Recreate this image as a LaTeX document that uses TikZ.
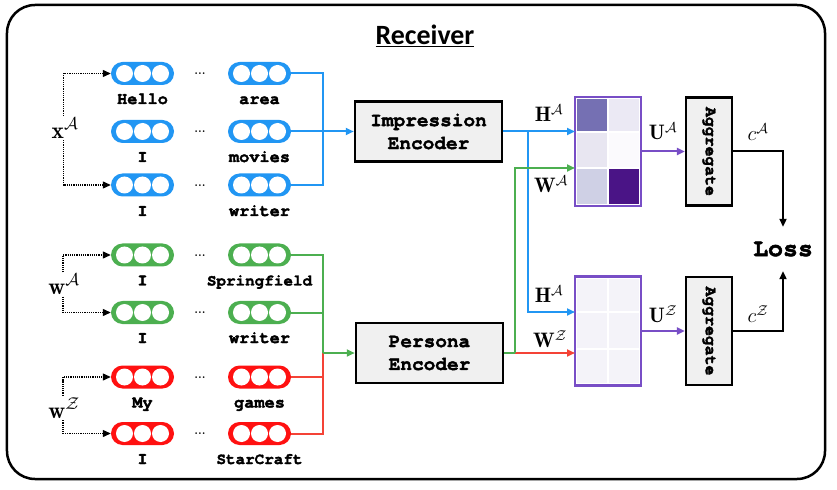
\documentclass[tikz,border=0pt]{standalone}
\usepackage{fontspec}
\setmonofont{TeX Gyre Cursor}[Ligatures={NoCommon},BoldFeatures={FakeBold=2}]
\newfontfamily\titlefont{Carlito}
\usepackage{graphicx}
\usetikzlibrary{arrows.meta}
\definecolor{cblue}{RGB}{33,150,243}
\definecolor{cgreen}{RGB}{76,175,80}
\definecolor{cred}{RGB}{255,17,17}
\definecolor{credline}{RGB}{244,67,54}
\definecolor{cpurple}{RGB}{120,78,198}
\definecolor{boxfill}{RGB}{240,240,240}
\definecolor{mAa}{RGB}{117,112,179}
\definecolor{mAb}{RGB}{235,233,244}
\definecolor{mAc}{RGB}{232,230,241}
\definecolor{mAd}{RGB}{251,250,253}
\definecolor{mAe}{RGB}{207,208,229}
\definecolor{mAf}{RGB}{74,20,134}
\definecolor{mZ}{RGB}{244,243,249}
\begin{document}
\begin{tikzpicture}[x=1bp,y=-1bp,
  pill/.style={rectangle, rounded corners=11.5bp, minimum width=63bp, minimum height=23bp, inner sep=0pt, fill=#1,
    path picture={\foreach \dx in {-18,0,18}{\fill[white] ([xshift=\dx bp]path picture bounding box.center) circle[radius=8.5bp];}}},
  tok/.style={anchor=base, inner sep=0pt, font=\ttfamily\bfseries\fontsize{17}{20}\selectfont},
  toksm/.style={anchor=base, inner sep=0pt, font=\ttfamily\bfseries\fontsize{16}{20}\selectfont},
  dots/.style={inner sep=0pt, font=\bfseries\fontsize{12}{14}\selectfont},
  mlab/.style={inner sep=1.5bp, font=\fontsize{21}{25}\selectfont},
  inlab/.style={inner sep=1.5bp, font=\fontsize{23.5}{28}\selectfont},
  dotarrow/.style={densely dotted, line width=1.2bp, -{Triangle[length=8bp,width=7bp]}},
  encbox/.style={draw=black, fill=boxfill, line width=2.5bp, minimum width=147bp, minimum height=60bp, align=center, inner sep=0pt, font=\ttfamily\bfseries\fontsize{19.5}{23}\selectfont},
  aggbox/.style={draw=black, fill=boxfill, line width=2.2bp, minimum width=46bp, minimum height=108bp, inner sep=0pt, font=\ttfamily\bfseries\fontsize{16.5}{20}\selectfont},
  matbox/.style={draw=cpurple, fill=white, line width=2.2bp, minimum width=66bp, minimum height=109bp, inner sep=0pt},
  conn/.style={line width=2bp},
  carrow/.style={line width=2bp, -{Triangle[length=8bp,width=7bp]}},
]
\useasboundingbox (0,0) rectangle (837,490);
\node[draw=black, line width=2.5bp, rounded corners=28bp, minimum width=818bp, minimum height=474bp] (frame) at (416,242) {};
\node[anchor=base, inner sep=0pt, font=\titlefont\bfseries\fontsize{28}{32}\selectfont] (title) at (425,45) {\underline{Receiver}};

% pills
\node[pill=cblue] (b1l) at (142.5,73.5) {};
\node[pill=cblue] (b1r) at (259.5,73.5) {};
\node[pill=cblue] (b2l) at (142.5,131.5) {};
\node[pill=cblue] (b2r) at (259.5,131.5) {};
\node[pill=cblue] (b3l) at (142.5,185) {};
\node[pill=cblue] (b3r) at (259.5,185) {};
\node[pill=cgreen] (g1l) at (142.5,255) {};
\node[pill=cgreen] (g1r) at (259.5,255) {};
\node[pill=cgreen] (g2l) at (142.5,312.5) {};
\node[pill=cgreen] (g2r) at (259.5,312.5) {};
\node[pill=cred] (r1l) at (142.5,377) {};
\node[pill=cred] (r1r) at (259.5,377) {};
\node[pill=cred] (r2l) at (142.5,433.5) {};
\node[pill=cred] (r2r) at (259.5,433.5) {};

% dots
\node[dots] (d1) at (200,74) {...};
\node[dots] (d2) at (200,132) {...};
\node[dots] (d3) at (200,185.5) {...};
\node[dots] (d4) at (200,255.5) {...};
\node[dots] (d5) at (200,313) {...};
\node[dots] (d6) at (200,377.5) {...};
\node[dots] (d7) at (200,434) {...};

% token labels
\node[tok] (t1l) at (142.5,104) {Hello};
\node[tok] (t1r) at (259.5,104) {area};
\node[tok] (t2l) at (142.5,162) {I};
\node[tok] (t2r) at (259.5,162) {movies};
\node[tok] (t3l) at (142.5,216) {I};
\node[tok] (t3r) at (259.5,216) {writer};
\node[tok] (t4l) at (142.5,285.5) {I};
\node[toksm] (t4r) at (259.5,285.5) {Springfield};
\node[tok] (t5l) at (142.5,343) {I};
\node[tok] (t5r) at (259.5,343) {writer};
\node[tok] (t6l) at (142.5,407.5) {My};
\node[tok] (t6r) at (259.5,407.5) {games};
\node[tok] (t7l) at (142.5,464) {I};
\node[toksm] (t7r) at (259.5,464) {StarCraft};

% input math labels
\node[inlab] (xA) at (65,128) {$\mathbf{x}^{\mathcal{A}}$};
\node[inlab] (wA) at (64,284.5) {$\mathbf{w}^{\mathcal{A}}$};
\node[inlab] (wZ) at (64,408) {$\mathbf{w}^{\mathcal{Z}}$};
\draw[dotarrow] (xA.north) ++(-1.5bp,0) |- (b1l.west);
\draw[dotarrow] (xA.south) ++(-1.5bp,0) |- (b3l.west);
\draw[dotarrow] (wA.north) ++(-1bp,0) |- (g1l.west);
\draw[dotarrow] (wA.south) ++(-1bp,0) |- (g2l.west);
\draw[dotarrow] (wZ.north) ++(-1bp,0) |- (r1l.west);
\draw[dotarrow] (wZ.south) ++(-1bp,0) |- (r2l.west);

% encoders
\node[encbox] (imp) at (428.5,131.5) {Impression\\Encoder};
\node[encbox] (pers) at (429.5,353) {Persona\\Encoder};

\coordinate (bj) at (323,131.5);
\coordinate (gj) at (323,353);
\draw[conn, cblue] (b1r.east) -| (bj);
\draw[conn, cblue] (b3r.east) -| (bj);
\draw[carrow, cblue] (b2r.east) -- (imp.west);
\draw[conn, cgreen] (g1r.east) -| (gj);
\draw[conn, cgreen] (g2r.east) -| (gj);
\draw[conn, credline] (r1r.east) -| (gj);
\draw[conn, credline] (r2r.east) -| (gj);
\draw[carrow, cgreen] (gj) -- (pers.west);

% matrices
\node[matbox] (matA) at (608,151.5) {};
\node[matbox] (matZ) at (608,331) {};
\fill[mAa] (577,99) rectangle (607,131);
\fill[mAb] (609,99) rectangle (639,131);
\fill[mAc] (577,133) rectangle (607,167.5);
\fill[mAd] (609,133) rectangle (639,167.5);
\fill[mAe] (577,169.5) rectangle (607,204);
\fill[mAf] (609,169.5) rectangle (639,204);
\fill[mZ] (577,279) rectangle (607,311);
\fill[mZ] (609,279) rectangle (639,311);
\fill[mZ] (577,313) rectangle (607,348);
\fill[mZ] (609,313) rectangle (639,348);
\fill[mZ] (577,350) rectangle (607,383);
\fill[mZ] (609,350) rectangle (639,383);

\coordinate (inA1) at (575,131.5);
\coordinate (inA2) at (575,168);
\coordinate (inZ1) at (575,312);
\coordinate (inZ2) at (575,353);
\coordinate (bsplit) at (528,131.5);
\coordinate (gsplit) at (515,353);
\draw[carrow, cblue] (imp.east) -- (inA1);
\draw[carrow, cblue] (bsplit) |- (inZ1);
\draw[carrow, credline] (gsplit) -- (inZ2);
\draw[conn, cgreen] (pers.east) -- (gsplit);
\draw[carrow, cgreen] (gsplit) |- (inA2);

\node[mlab] (lHA) at (549,113) {$\mathbf{H}^{\mathcal{A}}$};
\node[mlab] (lWA) at (551,184) {$\mathbf{W}^{\mathcal{A}}$};
\node[mlab] (lHZ) at (549,294) {$\mathbf{H}^{\mathcal{A}}$};
\node[mlab] (lWZ) at (550,339) {$\mathbf{W}^{\mathcal{Z}}$};

% aggregate
\node[aggbox] (aggA) at (709,151.5) {\rotatebox{-90}{Aggregate}};
\node[aggbox] (aggZ) at (709,331) {\rotatebox{-90}{Aggregate}};
\draw[carrow, cpurple] (matA.east) -- (aggA.west);
\draw[carrow, cpurple] (matZ.east) -- (aggZ.west);
\node[mlab] (lUA) at (663,131) {$\mathbf{U}^{\mathcal{A}}$};
\node[mlab] (lUZ) at (663,314) {$\mathbf{U}^{\mathcal{Z}}$};

% loss
\node[inner sep=0pt, minimum height=44bp, font=\ttfamily\bfseries\fontsize{25}{28}\selectfont] (loss) at (783,249) {Loss};
\draw[carrow, black] (aggA.east) -| (loss.north);
\draw[carrow, black] (aggZ.east) -| (loss.south);
\node[mlab] (lcA) at (758,132) {$c^{\mathcal{A}}$};
\node[mlab] (lcZ) at (758,314) {$c^{\mathcal{Z}}$};
\end{tikzpicture}
\end{document}
